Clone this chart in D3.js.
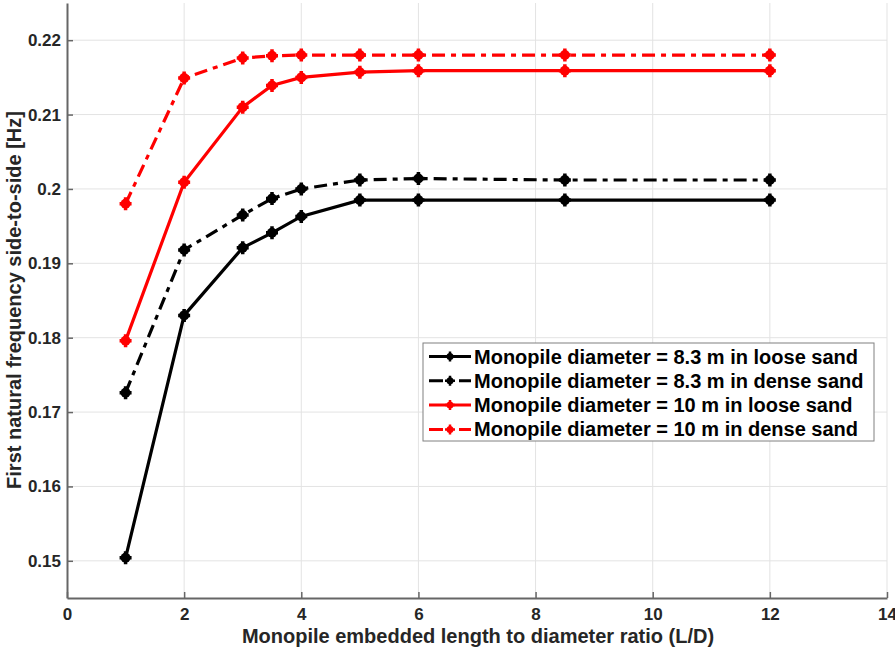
<!DOCTYPE html>
<html>
<head>
<meta charset="utf-8">
<script src="https://cdn.jsdelivr.net/npm/d3@7"></script>
<style>
  body { margin: 0; background: #fff; }
  svg text { font-family: "Liberation Sans", Arial, sans-serif; font-weight: bold; }
</style>
</head>
<body>
<svg id="chart" width="895" height="650"></svg>
<script>
// L/D ratios used in the study
const ratios = [1, 2, 3, 3.5, 4, 5, 6, 8.5, 12]

// first natural frequency values [Hz]
const d83Loose = [0.1504, 0.1830, 0.1921, 0.1941, 0.1963, 0.1985, 0.1985, 0.1985, 0.1985]
const d83Dense = [0.1726, 0.1918, 0.1965, 0.1987, 0.2000, 0.2012, 0.2014, 0.2012, 0.2012]
const d10Loose = [0.1796, 0.2009, 0.2110, 0.2139, 0.2150, 0.2157, 0.2159, 0.2159, 0.2159]
const d10Dense = [0.1980, 0.2149, 0.2176, 0.2179, 0.2180, 0.2180, 0.2180, 0.2180, 0.2180]

const seriesNames = [
    "Monopile diameter = 8.3 m in loose sand",
    "Monopile diameter = 8.3 m in dense sand",
    "Monopile diameter = 10 m in loose sand",
    "Monopile diameter = 10 m in dense sand"
]

const xTicks = [0, 2, 4, 6, 8, 10, 12, 14]
const yTicks = [0.15, 0.16, 0.17, 0.18, 0.19, 0.2, 0.21, 0.22]

const series = [
    {name: seriesNames[0], values: d83Loose, color: "#000", dash: null},
    {name: seriesNames[1], values: d83Dense, color: "#000", dash: "13,6,5,6"},
    {name: seriesNames[2], values: d10Loose, color: "#ff0000", dash: null},
    {name: seriesNames[3], values: d10Dense, color: "#ff0000", dash: "13,6,5,6"}
]

const margin = {left: 67, right: 8, top: 3, bottom: 52}
const width = 895 - margin.left - margin.right
const height = 650 - margin.top - margin.bottom

const svg = d3.select("#chart")
const g = svg.append("g").attr("transform", `translate(${margin.left},${margin.top})`)

const x = d3.scaleLinear().domain([0, 14]).range([0, width])
const y = d3.scaleLinear().domain([0.145, 0.225]).range([height, 0])

//grid
g.append("g").selectAll("line").data(xTicks.slice(1)).join("line")
    .attr("x1", d => x(d)).attr("x2", d => x(d))
    .attr("y1", 0).attr("y2", height)
    .attr("stroke", "#e3e3e3").attr("stroke-width", 1)
g.append("g").selectAll("line").data(yTicks).join("line")
    .attr("x1", 0).attr("x2", width)
    .attr("y1", d => y(d)).attr("y2", d => y(d))
    .attr("stroke", "#e3e3e3").attr("stroke-width", 1)

//axes
const xAxis = g.append("g").attr("transform", `translate(0,${height})`)
    .call(d3.axisBottom(x).tickValues(xTicks).tickSize(-6).tickPadding(10).tickSizeOuter(0))
const yAxis = g.append("g")
    .call(d3.axisLeft(y).tickValues(yTicks).tickFormat(d => String(+d.toFixed(2))).tickSize(-6).tickPadding(6).tickSizeOuter(0))
for (const ax of [xAxis, yAxis]) {
    ax.select(".domain").attr("stroke", "#666").attr("stroke-width", 2)
    ax.selectAll(".tick line").attr("stroke", "#666").attr("stroke-width", 1.5)
    ax.selectAll(".tick text").attr("fill", "#262626").style("font-size", "17px")
}

//axis titles
svg.append("text")
    .attr("x", 478).attr("y", 643)
    .attr("text-anchor", "middle").attr("fill", "#262626")
    .style("font-size", "20px")
    .text("Monopile embedded length to diameter ratio (L/D)")
svg.append("text")
    .attr("transform", "translate(21,300) rotate(-90)")
    .attr("text-anchor", "middle").attr("fill", "#262626")
    .style("font-size", "20px")
    .text("First natural frequency side-to-side [Hz]")

const line = d3.line().x((d, i) => x(ratios[i])).y(d => y(d))

function drawMarker(sel, color) {
    sel.append("circle").attr("r", 5).attr("fill", color)
    sel.append("path").attr("d", "M-6,0H6M0,-6.5V6.5")
        .attr("stroke", color).attr("stroke-width", 3.5)
}

for (const s of series) {
    g.append("path")
        .attr("d", line(s.values))
        .attr("fill", "none")
        .attr("stroke", s.color)
        .attr("stroke-width", 3.2)
        .attr("stroke-dasharray", s.dash)
    g.append("g").selectAll("g").data(s.values).join("g")
        .attr("transform", (d, i) => `translate(${x(ratios[i])},${y(d)})`)
        .each(function() { drawMarker(d3.select(this), s.color) })
}

//legend
const legend = svg.append("g").attr("transform", "translate(423,343)")
legend.append("rect")
    .attr("width", 451).attr("height", 98)
    .attr("fill", "#fff").attr("stroke", "#808080").attr("stroke-width", 1)
series.forEach((s, i) => {
    const row = legend.append("g").attr("transform", `translate(0,${13.5 + i * 24.3})`)
    row.append("line")
        .attr("x1", 6).attr("x2", 48).attr("y1", 0).attr("y2", 0)
        .attr("stroke", s.color).attr("stroke-width", 3)
        .attr("stroke-dasharray", s.dash ? "14,6,4,6,14" : null)
    const m = row.append("g").attr("transform", "translate(27,0)")
    m.append("circle").attr("r", 3.5).attr("fill", s.color)
    m.append("path").attr("d", "M-5,0H5M0,-5V5").attr("stroke", s.color).attr("stroke-width", 2.5)
    row.append("text")
        .attr("x", 51).attr("y", 7)
        .attr("fill", "#000")
        .style("font-size", "20px")
        .text(s.name)
})
</script>
</body>
</html>
